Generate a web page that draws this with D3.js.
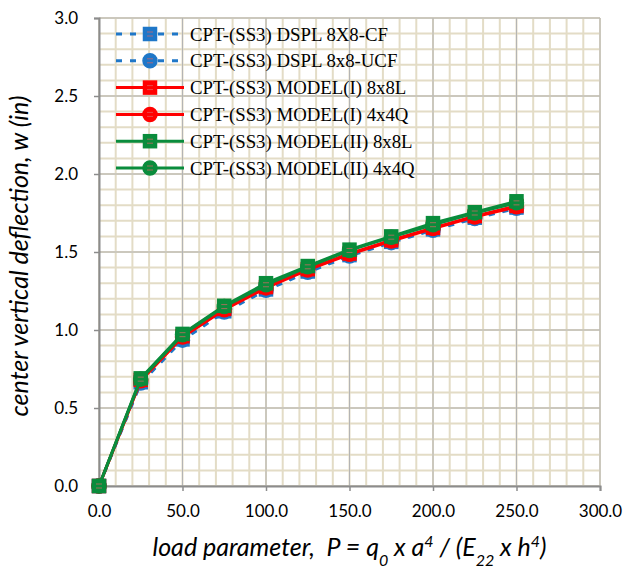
<!DOCTYPE html>
<html>
<head>
  <meta charset="utf-8">
  <title>Center vertical deflection vs load parameter</title>
  <script src="https://d3js.org/d3.v7.min.js"></script>
  <style>
    body { margin: 0; background: #fff; }
  </style>
</head>
<body>
  <script>
    // load parameter values (x) shared by all series
    const loads = [0, 25, 50, 75, 100, 125, 150, 175, 200, 225, 250];

    // deflection values, one array per series
    const dsplCF   = [0, 0.665, 0.940, 1.120, 1.260, 1.375, 1.480, 1.565, 1.645, 1.720, 1.785];
    const dsplUCF  = [0, 0.660, 0.935, 1.115, 1.255, 1.370, 1.475, 1.560, 1.640, 1.715, 1.780];
    const model1L  = [0, 0.680, 0.960, 1.135, 1.275, 1.390, 1.490, 1.575, 1.655, 1.730, 1.795];
    const model1Q  = [0, 0.675, 0.955, 1.130, 1.270, 1.385, 1.485, 1.570, 1.650, 1.725, 1.790];
    const model2L  = [0, 0.690, 0.975, 1.155, 1.300, 1.410, 1.515, 1.600, 1.685, 1.755, 1.825];
    const model2Q  = [0, 0.685, 0.970, 1.150, 1.290, 1.405, 1.510, 1.595, 1.675, 1.750, 1.815];

    const seriesNames = [
      "CPT-(SS3) DSPL 8X8-CF",
      "CPT-(SS3) DSPL 8x8-UCF",
      "CPT-(SS3) MODEL(I) 8x8L",
      "CPT-(SS3) MODEL(I) 4x4Q",
      "CPT-(SS3) MODEL(II) 8x8L",
      "CPT-(SS3) MODEL(II) 4x4Q"
    ];
    const seriesValues = [dsplCF, dsplUCF, model1L, model1Q, model2L, model2Q];

    const xTicks = [0, 50, 100, 150, 200, 250, 300];
    const yTicks = [0, 0.5, 1.0, 1.5, 2.0, 2.5, 3.0];

    // drawing styles per series
    const styles = [
      { color: "#1f77c8", dash: "6,8", marker: "square" },
      { color: "#1f77c8", dash: "6,8", marker: "circle" },
      { color: "#ff0000", dash: null, marker: "square" },
      { color: "#ff0000", dash: null, marker: "circle" },
      { color: "#0a8c3c", dash: null, marker: "square" },
      { color: "#0a8c3c", dash: null, marker: "circle" }
    ];

    const width = 624, height = 574;
    const margin = { top: 18, right: 24, bottom: 88, left: 99 };

    const svg = d3.select("body").append("svg")
      .attr("width", width)
      .attr("height", height);

    const x = d3.scaleLinear().domain([0, 300]).range([margin.left, width - margin.right]);
    const y = d3.scaleLinear().domain([0, 3]).range([height - margin.bottom, margin.top]);

    // minor grid (beige)
    const grid = svg.append("g");
    grid.selectAll(".vminor")
      .data(d3.range(0, 301, 10))
      .enter().append("line")
      .attr("x1", d => x(d)).attr("x2", d => x(d))
      .attr("y1", y(0)).attr("y2", y(3))
      .attr("stroke", "#e3dcc6").attr("stroke-width", 2);
    grid.selectAll(".hminor")
      .data(d3.range(0, 31).map(d => d / 10))
      .enter().append("line")
      .attr("x1", x(0)).attr("x2", x(300))
      .attr("y1", d => y(d)).attr("y2", d => y(d))
      .attr("stroke", "#e3dcc6").attr("stroke-width", 2);

    // major grid (gray)
    grid.selectAll(".vmajor")
      .data(xTicks)
      .enter().append("line")
      .attr("x1", d => x(d)).attr("x2", d => x(d))
      .attr("y1", y(0)).attr("y2", y(3))
      .attr("stroke", "#b4b4b4").attr("stroke-width", 1);
    grid.selectAll(".hmajor")
      .data(yTicks)
      .enter().append("line")
      .attr("x1", x(0)).attr("x2", x(300))
      .attr("y1", d => y(d)).attr("y2", d => y(d))
      .attr("stroke", "#b4b4b4").attr("stroke-width", 1);

    // axes
    const xAxis = svg.append("g")
      .attr("transform", `translate(0,${y(0)})`)
      .call(d3.axisBottom(x).tickValues(xTicks).tickFormat(d3.format(".1f")).tickSize(5).tickPadding(14));
    const yAxis = svg.append("g")
      .attr("transform", `translate(${x(0)},0)`)
      .call(d3.axisLeft(y).tickValues(yTicks).tickFormat(d3.format(".1f")).tickSize(5).tickPadding(16));
    [xAxis, yAxis].forEach(a => {
      a.select(".domain").attr("stroke", "#8c8c8c").attr("stroke-width", 2);
      a.selectAll(".tick line").attr("stroke", "#8c8c8c").attr("stroke-width", 1.5);
      a.selectAll(".tick text")
        .attr("fill", "#000")
        .style("font-family", "Lato, 'Open Sans', sans-serif")
        .style("font-size", "17px");
    });

    // marker drawing helper
    function drawMarker(g, type, color, cx, cy) {
      if (type === "square") {
        g.append("rect")
          .attr("x", cx - 6.5).attr("y", cy - 6.5)
          .attr("width", 13).attr("height", 13)
          .attr("fill", color).attr("stroke", color).attr("stroke-width", 1.5);
      } else {
        g.append("circle")
          .attr("cx", cx).attr("cy", cy).attr("r", 7)
          .attr("fill", color).attr("stroke", color).attr("stroke-width", 1.5);
      }
      // faint inner pattern like the original marker fill
      g.append("line")
        .attr("x1", cx - 3).attr("x2", cx + 3)
        .attr("y1", cy - 2).attr("y2", cy - 2)
        .attr("stroke", "#d66").attr("stroke-width", 1).attr("opacity", 0.7);
      g.append("line")
        .attr("x1", cx - 3).attr("x2", cx + 3)
        .attr("y1", cy + 2).attr("y2", cy + 2)
        .attr("stroke", "#d66").attr("stroke-width", 1).attr("opacity", 0.7);
    }

    const line = d3.line()
      .x(d => x(d[0]))
      .y(d => y(d[1]));

    // series
    seriesValues.forEach((vals, i) => {
      const st = styles[i];
      const pts = loads.map((l, j) => [l, vals[j]]);
      const g = svg.append("g");
      g.append("path")
        .datum(pts)
        .attr("d", line)
        .attr("fill", "none")
        .attr("stroke", st.color)
        .attr("stroke-width", 3)
        .attr("stroke-dasharray", st.dash);
      pts.forEach(p => drawMarker(g, st.marker, st.color, x(p[0]), y(p[1])));
    });

    // legend
    const legend = svg.append("g");
    seriesNames.forEach((name, i) => {
      const st = styles[i];
      const ly = 34 + i * 26.8;
      const row = legend.append("g");
      row.append("line")
        .attr("x1", 116).attr("x2", 184)
        .attr("y1", ly).attr("y2", ly)
        .attr("stroke", st.color)
        .attr("stroke-width", 3)
        .attr("stroke-dasharray", st.dash);
      drawMarker(row, st.marker, st.color, 150, ly);
      row.append("text")
        .attr("x", 190).attr("y", ly)
        .attr("dy", "0.35em")
        .style("font-family", "'Liberation Serif', 'Times New Roman', serif")
        .style("font-size", "18.8px")
        .text(name);
    });

    // axis titles
    svg.append("text")
      .attr("transform", `translate(28,${(y(0) + y(3)) / 2 + 4}) rotate(-90)`)
      .attr("text-anchor", "middle")
      .style("font-family", "Lato, 'Open Sans', sans-serif")
      .style("font-style", "italic")
      .style("font-size", "25px")
      .text("center vertical deflection,  w (in)");

    const xt = svg.append("text")
      .attr("x", (x(0) + x(300)) / 2)
      .attr("y", 556)
      .attr("text-anchor", "middle")
      .style("font-family", "Lato, 'Open Sans', sans-serif")
      .style("font-style", "italic")
      .style("font-size", "25px")
      .attr("xml:space", "preserve");
    xt.append("tspan").text("load parameter,  P = q");
    xt.append("tspan").attr("baseline-shift", "sub").style("font-size", "16px").text("0");
    xt.append("tspan").text(" x a");
    xt.append("tspan").attr("baseline-shift", "super").style("font-size", "16px").text("4");
    xt.append("tspan").text(" / (E");
    xt.append("tspan").attr("baseline-shift", "sub").style("font-size", "16px").text("22");
    xt.append("tspan").text(" x h");
    xt.append("tspan").attr("baseline-shift", "super").style("font-size", "16px").text("4");
    xt.append("tspan").text(")");
  </script>
</body>
</html>
